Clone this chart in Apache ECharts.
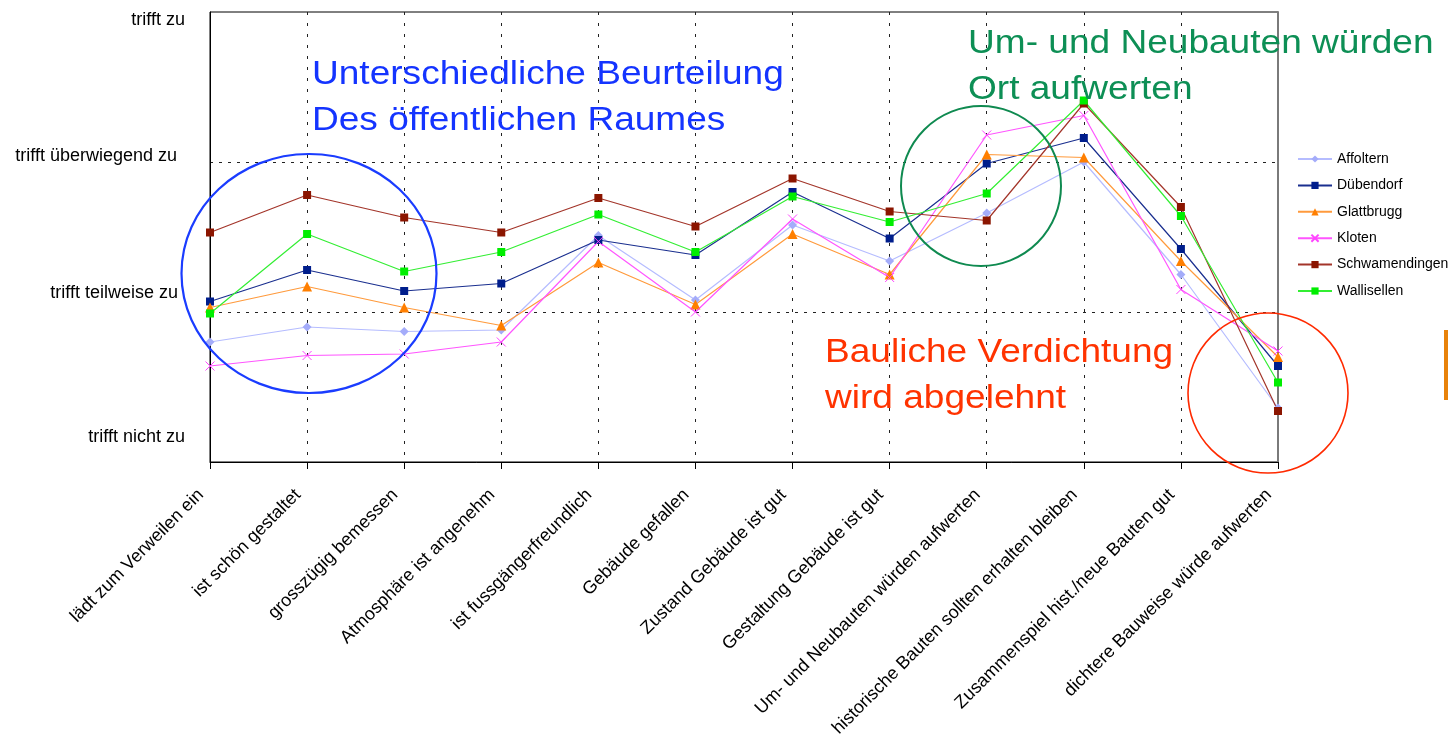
<!DOCTYPE html>
<html>
<head>
<meta charset="utf-8">
<script src="https://cdn.jsdelivr.net/npm/echarts@6/dist/echarts.min.js"></script>
<style>
  html, body { margin: 0; padding: 0; background: #fff; }
  #chart { width: 1448px; height: 742px; }
</style>
</head>
<body>
<div id="chart"></div>
<script>
// Aussagen (x-Achse)
const categories = [
  'lädt zum Verweilen ein', 'ist schön gestaltet', 'grosszügig bemessen',
  'Atmosphäre ist angenehm', 'ist fussgängerfreundlich', 'Gebäude gefallen',
  'Zustand Gebäude ist gut', 'Gestaltung Gebäude ist gut',
  'Um- und Neubauten würden aufwerten', 'historische Bauten sollten erhalten bleiben',
  'Zusammenspiel hist./neue Bauten gut', 'dichtere Bauweise würde aufwerten'
];

// Skala 1..4
const scaleLabels = { 1: 'trifft nicht zu', 2: 'trifft teilweise zu', 3: 'trifft überwiegend zu', 4: 'trifft zu' };

// Mittelwerte je Ort
const affoltern      = [1.80, 1.90, 1.87, 1.88, 2.51, 2.08, 2.58, 2.34, 2.66, 3.00, 2.25, 1.36];
const duebendorf     = [2.07, 2.28, 2.14, 2.19, 2.48, 2.38, 2.80, 2.49, 2.99, 3.16, 2.42, 1.64];
const glattbrugg     = [2.03, 2.17, 2.03, 1.91, 2.33, 2.05, 2.52, 2.25, 3.05, 3.03, 2.34, 1.70];
const kloten         = [1.64, 1.71, 1.72, 1.80, 2.47, 2.00, 2.62, 2.23, 3.18, 3.31, 2.15, 1.74];
const schwamendingen = [2.53, 2.78, 2.63, 2.53, 2.76, 2.57, 2.89, 2.67, 2.61, 3.39, 2.70, 1.34];
const wallisellen    = [1.99, 2.52, 2.27, 2.40, 2.65, 2.40, 2.77, 2.60, 2.79, 3.41, 2.64, 1.53];

const font = '"Liberation Sans", Arial, sans-serif';

function mkSeries(name, data, color, lineColor, symbol, size, extra) {
  return Object.assign({
    name: name,
    type: 'line',
    data: data,
    symbol: symbol,
    symbolSize: size,
    showAllSymbol: true,
    lineStyle: { color: lineColor, width: 1.2 },
    itemStyle: { color: color },
    emphasis: { disabled: true },
    z: 3
  }, extra || {});
}

const chart = echarts.init(document.getElementById('chart'));

chart.setOption({
  animation: false,
  backgroundColor: '#fff',
  textStyle: { fontFamily: font },
  grid: {
    left: 210, right: 170, top: 12, bottom: 280,
    show: true, borderColor: '#000', borderWidth: 1
  },
  legend: {
    orient: 'vertical',
    left: 1292, top: 147,
    itemWidth: 34, itemHeight: 9, itemGap: 12.4,
    textStyle: { fontSize: 14, color: '#000', fontFamily: font },
    data: ['Affoltern', 'Dübendorf', 'Glattbrugg', 'Kloten', 'Schwamendingen', 'Wallisellen']
  },
  xAxis: {
    type: 'category',
    data: categories,
    boundaryGap: false,
    axisLine: { lineStyle: { color: '#000', width: 1 } },
    axisTick: { show: true, length: 7, lineStyle: { color: '#000' } },
    splitLine: { show: true, lineStyle: { color: '#222', type: [3, 8], width: 1 } },
    axisLabel: {
      rotate: 45, margin: 21, fontSize: 18, color: '#000', fontFamily: font,
      interval: 0, padding: [0, 13, 0, 0]
    }
  },
  yAxis: [{
    type: 'value',
    min: 1, max: 4, interval: 1,
    axisLine: { show: true, lineStyle: { color: '#000', width: 1 } },
    axisTick: { show: false },
    splitLine: {
      show: true, showMinLine: false, showMaxLine: false,
      lineStyle: { color: '#222', type: [3, 6], width: 1 }
    },
    axisLabel: {
      margin: 25, color: '#000', fontSize: 18, fontFamily: font,
      formatter: function (v) { return '{l' + v + '|' + scaleLabels[v] + '}'; },
      rich: {
        l1: { fontSize: 18, color: '#000', padding: [0, 0, 50, 0] },
        l2: { fontSize: 18, color: '#000', padding: [0, 7, 38, 0] },
        l3: { fontSize: 18, color: '#000', padding: [0, 8, 12, 0] },
        l4: { fontSize: 18, color: '#000', padding: [16, 0, 0, 0] }
      }
    }
  }, {
    type: 'value',
    position: 'right',
    min: 1, max: 4, interval: 1,
    axisLine: { show: true, lineStyle: { color: '#7a7a7a', width: 2 } },
    axisTick: { show: false },
    axisLabel: { show: false },
    splitLine: { show: false }
  }],
  series: [
    mkSeries('Affoltern', affoltern, '#a4acfa', '#b5bcff', 'diamond', 9),
    mkSeries('Dübendorf', duebendorf, '#001e8c', '#1a2f8f', 'rect', 8),
    mkSeries('Glattbrugg', glattbrugg, '#ff7f00', '#ff9a3c', 'triangle', 10),
    mkSeries('Kloten', kloten, '#ff44ff', '#ff55ff', 'path://M0,0L10,10M10,0L0,10', 9, {
      itemStyle: { color: 'none', borderColor: '#ff44ff', borderWidth: 1 }
    }),
    mkSeries('Schwamendingen', schwamendingen, '#8b1500', '#a3352a', 'rect', 8),
    mkSeries('Wallisellen', wallisellen, '#00ee00', '#33ee33', 'rect', 8)
  ],
  graphic: [
    { type: 'ellipse', shape: { cx: 309, cy: 273.5, rx: 127.5, ry: 119.5 },
      style: { fill: 'none', stroke: '#1a3cff', lineWidth: 2.2 }, z: 10 },
    { type: 'circle', shape: { cx: 981, cy: 186, r: 80 },
      style: { fill: 'none', stroke: '#0f8a50', lineWidth: 2 }, z: 10 },
    { type: 'circle', shape: { cx: 1268, cy: 393, r: 80 },
      style: { fill: 'none', stroke: '#ff2a00', lineWidth: 1.6 }, z: 10 },
    { type: 'text', x: 312, y: 52, scaleX: 1.09, z: 10,
      style: { text: 'Unterschiedliche Beurteilung\nDes öffentlichen Raumes',
        fill: '#1434ff', font: '34px ' + font, lineHeight: 46, verticalAlign: 'top' } },
    { type: 'text', x: 968, y: 21, scaleX: 1.09, z: 10,
      style: { text: 'Um- und Neubauten würden\nOrt aufwerten',
        fill: '#0d8f55', font: '34px ' + font, lineHeight: 46, verticalAlign: 'top' } },
    { type: 'text', x: 825, y: 330, scaleX: 1.09, z: 10,
      style: { text: 'Bauliche Verdichtung\nwird abgelehnt',
        fill: '#ff3300', font: '34px ' + font, lineHeight: 46, verticalAlign: 'top' } },
    { type: 'rect', shape: { x: 1444, y: 330, width: 6, height: 70 },
      style: { fill: '#e8820a' }, z: 10 }
  ]
});
</script>
</body>
</html>
